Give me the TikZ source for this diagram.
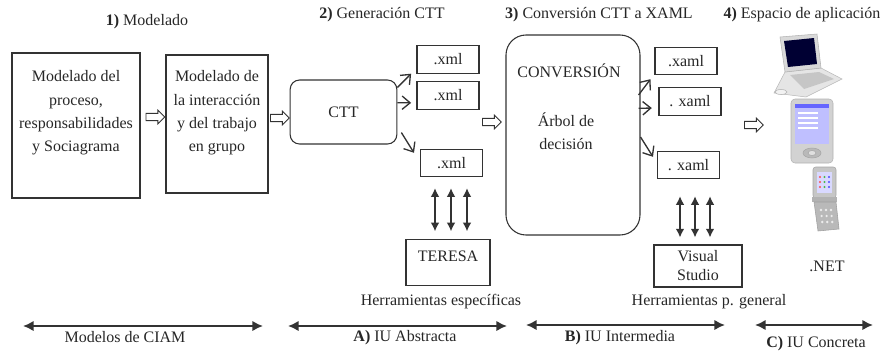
\documentclass[tikz,border=0pt]{standalone}
\usepackage{fontspec}
\setmainfont{Liberation Serif}
\usetikzlibrary{calc, arrows.meta, shapes.arrows}

\begin{document}
\begin{tikzpicture}[x=0.75pt, y=-0.75pt, font=\fontsize{12}{17.5}\selectfont, color=black!85,
		box/.style={draw=black!80, line width=0.8pt, inner sep=0pt},
		file/.style={box, minimum width=46.5pt, minimum height=20.5pt},
		hollow/.style={single arrow, draw=black!80, fill=white, line width=0.7pt, minimum height=14pt, minimum width=10pt, single arrow head extend=2.4pt, inner sep=2.4pt},
		fan/.style={-{Straight Barb[length=6pt, width=10pt]}, line width=1pt, black!80},
		link/.style={{Latex[length=6.5pt, width=6.5pt]}-{Latex[length=6.5pt, width=6.5pt]}, line width=1.1pt, black!80},
		span/.style={{Latex[length=8pt, width=8pt]}-{Latex[length=8pt, width=8pt]}, line width=1.6pt, black!80}]
		
		\useasboundingbox (0,0) rectangle (895,354);
		
		% --- 1) MODELADO ---
		\node (tit1) at (147,22) {\textbf{1)} Modelado};
		\node[box, minimum width=96pt, minimum height=108.75pt] (proc) at (76,125.5) {};
		\node[align=center] (proctxt) at (76,113) {Modelado del\\proceso,\\responsabilidades\\y Sociagrama};
		\node[box, minimum width=76.5pt, minimum height=103.5pt] (inter) at (217,124) {};
		\node[align=center] (intertxt) at (217,113) {Modelado de\\la interacción\\y del trabajo\\en grupo};
		\node[hollow] (h1) at (153.5,117) {};
		\node[hollow] (h2) at (278,118) {};
		
		% --- 2) GENERACION CTT ---
		\node (tit2) at (382,15) {\textbf{2)} Generación CTT};
		\node[box, rounded corners=7pt, minimum width=80pt, minimum height=48pt] (ctt) at (343.5,112) {CTT};
		\node[file] (xml1) at (448,59.5) {.xml};
		\node[file] (xml2) at (448,95.5) {.xml};
		\node[file] (xml3) at (451.5,163) {.xml};
		\draw[fan] ([yshift=-6pt]ctt.north east) -- ([xshift=-4pt]xml1.south west);
		\draw[fan] ([yshift=7pt]ctt.east) -- ([shift={(-4pt,-5.5pt)}]xml2.west);
		\draw[fan] ([shift={(3pt,9pt)}]ctt.south east) -- ([shift={(-4.5pt,-3pt)}]xml3.north west);
		
		% TERESA and its links
		\node[box, minimum width=63pt, minimum height=34pt] (teresa) at (448,262.5) {};
		\node (teresatxt) at (448,256) {TERESA};
		\foreach \dx in {-9.75,2.25,14.25}
		\draw[link, shorten <=6pt, shorten >=8.25pt] ($(teresa.north)+(\dx pt,0pt)$) -- ($(teresa.north |- xml3.south)+(\dx pt,0pt)$);
		\node (spec) at (441,302) {Herramientas específicas};
		
		% --- 3) CONVERSION CTT A XAML ---
		\node (tit3) at (599,15) {\textbf{3)} Conversión CTT a XAML};
		\node[hollow] (h3) at (490,122) {};
		\node[box, rounded corners=15pt, minimum width=100.5pt, minimum height=150pt] (conv) at (573,135) {};
		\node (convtitle) at (569,71) {CONVERSIÓN};
		\node[align=center] (convtxt) at (566,131.5) {Árbol de\\decisión};
		\node[file] (xaml1) at (686,61) {.xaml};
		\node[file] (xaml2) at (690,101.5) {. xaml};
		\node[file] (xaml3) at (688.5,165) {. xaml};
		\draw[fan] ([shift={(-1.5pt,30pt)}]conv.east) -- ([shift={(-3pt,-3pt)}]xaml1.south west);
		\draw[fan] ([shift={(-1.5pt,20pt)}]conv.east) -- ([shift={(-5pt,-4.9pt)}]xaml2.west);
		\draw[fan] ([yshift=-1.5pt]conv.east) -- ([shift={(-3pt,-4.5pt)}]xaml3.north west);
		
		% Visual Studio and its links
		\node[box, minimum width=66pt, minimum height=31.5pt, align=center] (vs) at (698,266) {Visual\\[-3.25pt]Studio};
		\foreach \dx in {-13.5,-2.25,9}
		\draw[link, shorten <=5.25pt, shorten >=12.75pt] ($(vs.north)+(\dx pt,0pt)$) -- ($(vs.north |- xaml3.south)+(\dx pt,0pt)$);
		\node (gen) at (709,302) {Herramientas p. general};
		
		% --- 4) ESPACIO DE APLICACION ---
		\node (tit4) at (802,15) {\textbf{4)} Espacio de aplicación};
		\node[hollow] (h4) at (752,125) {};
		
		% laptop
		\draw[gray!55, fill=gray!20] (785,72) -- (821,68) -- (842,79) -- (806,97) -- (774,93) -- cycle;
		\fill[gray!45] (790,75) -- (819,72) -- (834,79) -- (804,89) -- cycle;
		\draw[gray!60, fill=gray!30] (780,37) -- (817,34) -- (821,68) -- (785,72) -- cycle;
		\fill[blue!20!black] (784,41) -- (814,38) -- (817,64) -- (788,67) -- cycle;
		\draw[gray!60, fill=gray!10] (781,92) ellipse (6 and 2.5);
		
		% pocket pc
		\draw[gray!60, fill=gray!35, rounded corners=3pt] (791,99) rectangle (833,163);
		\fill[blue!25] (795,104) rectangle (829,144);
		\fill[blue!60] (795,104) rectangle (829,108);
		\foreach \yy in {113,118,123,128}
		\draw[white, line width=0.8pt] (798,\yy) -- (818,\yy);
		\draw[gray!70, fill=gray!55] (812,153) ellipse (9 and 5);
		\draw[gray!70, fill=gray!25] (812,153) ellipse (4 and 2.5);
		
		% mobile phone
		\draw[gray!70, fill=gray!45, rounded corners=2pt] (813,167) rectangle (836,198);
		\fill[blue!15] (817,172) rectangle (832,193);
		\foreach \xx/\cc in {820/red, 824.5/green!60!black, 829/blue}
		\foreach \yy in {177,182,187}
		\fill[\cc!70] (\xx,\yy) circle (1.2);
		\fill[gray!60] (812,197) rectangle (837,202);
		\draw[gray!75, fill=gray!55] (814,202) -- (836,202) -- (839,229) -- (818,231) -- cycle;
		\foreach \xx in {821,826,831}
		\foreach \yy in {210,216,222}
		\fill[gray!15] (\xx+0.1*\yy-21,\yy) circle (1.3);
		
		\node (net) at (827,266) {.NET};
		
		% --- BOTTOM SPANS ---
		\coordinate (ciamL) at (23,326);
		\coordinate (ciamR) at (263,326);
		\coordinate (aL) at (288,326);
		\coordinate (aR) at (507,326);
		\coordinate (bL) at (526,325);
		\coordinate (bR) at (725,325);
		\coordinate (cL) at (755,325);
		\coordinate (cR) at (873,325);
		\draw[span] (ciamL) -- (ciamR);
		\draw[span] (aL) -- (aR);
		\draw[span] (bL) -- (bR);
		\draw[span] (cL) -- (cR);
		\node (ciam) at (125,337) {Modelos de CIAM};
		\node (iuA) at (405,338) {\textbf{A)} IU Abstracta};
		\node (iuB) at (620,338) {\textbf{B)} IU Intermedia};
		\node (iuC) at (816,344) {\textbf{C)} IU Concreta};
		
	\end{tikzpicture}
\end{document}
